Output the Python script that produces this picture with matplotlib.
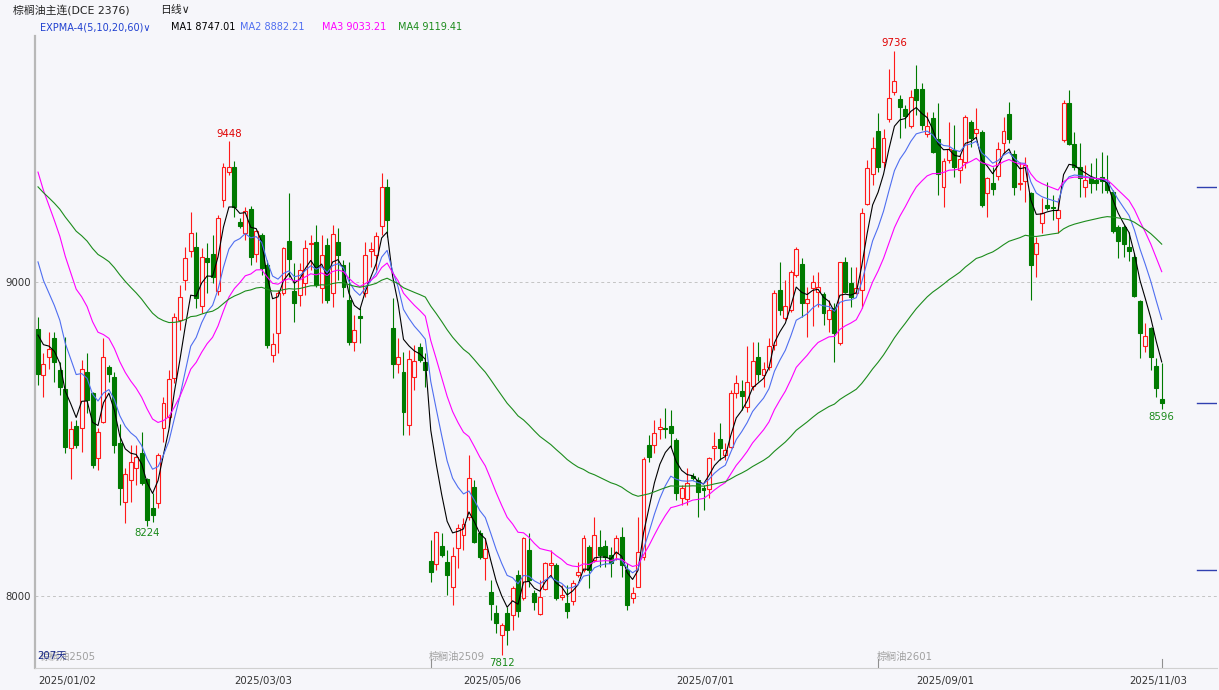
import matplotlib
matplotlib.use("Agg")
import matplotlib.pyplot as plt
from matplotlib.patches import Rectangle

plt.rcParams['font.family'] = ['DejaVu Sans', 'Noto Sans CJK SC']

# daily OHLC of the palm oil continuous contract, 2025/01/02 .. 2025/11/11 (207 sessions)
opens = [8850, 8704, 8761, 8822, 8720, 8659, 8471, 8541, 8535, 8713,
         8646, 8439, 8554, 8729, 8697, 8487, 8299, 8369, 8408, 8455,
         8373, 8280, 8296, 8535, 8570, 8694, 8879, 9006, 9099, 9111,
         8924, 9076, 9089, 8971, 9261, 9350, 9366, 9191, 9156, 9232,
         9089, 9150, 9054, 8767, 8838, 8965, 9131, 8971, 8959, 8997,
         9121, 9127, 8981, 9118, 8965, 9127, 9054, 8943, 8809, 8892,
         8965, 9099, 9086, 9178, 9303, 8853, 8739, 8713, 8545, 8697,
         8793, 8745, 8111, 8102, 8159, 8108, 8029, 8153, 8194, 8252,
         8347, 8201, 8121, 8013, 7946, 7876, 7946, 7939, 8067, 7994,
         8146, 8009, 7943, 8022, 8099, 8099, 7997, 7978, 7984, 8067,
         8083, 8156, 8115, 8156, 8159, 8130, 8137, 8188, 8083, 7994,
         8029, 8124, 8481, 8481, 8532, 8535, 8541, 8497, 8312, 8309,
         8382, 8369, 8344, 8341, 8471, 8500, 8449, 8474, 8646, 8653,
         8602, 8669, 8761, 8704, 8729, 8799, 8975, 8885, 8911, 9022,
         9057, 8933, 8981, 8968, 8962, 8882, 8917, 8806, 9064, 8997,
         8965, 8975, 9248, 9344, 9481, 9382, 9519, 9605, 9583, 9551,
         9497, 9615, 9615, 9471, 9522, 9455, 9303, 9389, 9420, 9357,
         9382, 9510, 9475, 9478, 9283, 9315, 9338, 9443, 9535, 9408,
         9312, 9322, 9283, 9089, 9188, 9245, 9239, 9204, 9452, 9570,
         9440, 9366, 9303, 9334, 9325, 9334, 9318, 9287, 9175, 9175,
         9111, 9080, 8939, 8796, 8853, 8732, 8627]
highs = [8889, 8774, 8841, 8841, 8745, 8825, 8557, 8560, 8752, 8774,
         8650, 8535, 8822, 8736, 8713, 8548, 8408, 8481, 8481, 8522,
         8376, 8328, 8455, 8634, 8720, 8901, 8990, 9111, 9223, 9159,
         9108, 9124, 9150, 9213, 9379, 9448, 9385, 9204, 9239, 9242,
         9166, 9156, 9070, 8838, 8975, 9111, 9283, 9061, 9061, 9134,
         9150, 9182, 9150, 9140, 9182, 9172, 9070, 9064, 8895, 8917,
         9127, 9127, 9159, 9347, 9328, 8949, 8822, 8777, 8783, 8799,
         8806, 8774, 8178, 8207, 8201, 8146, 8156, 8229, 8248, 8449,
         8369, 8210, 8185, 8051, 7971, 7914, 7965, 8032, 8083, 8188,
         8201, 8019, 8051, 8108, 8146, 8105, 8035, 8035, 8051, 8108,
         8194, 8162, 8252, 8210, 8178, 8156, 8194, 8220, 8105, 8029,
         8252, 8443, 8513, 8560, 8567, 8599, 8592, 8503, 8353, 8408,
         8392, 8379, 8353, 8443, 8522, 8551, 8487, 8656, 8704, 8688,
         8796, 8809, 8809, 8745, 8822, 8975, 9064, 9006, 9038, 9111,
         9076, 8984, 9022, 9032, 8968, 8943, 8933, 9064, 9080, 9048,
         9048, 9236, 9389, 9462, 9538, 9487, 9678, 9736, 9596, 9564,
         9612, 9691, 9634, 9541, 9541, 9570, 9395, 9510, 9500, 9404,
         9532, 9516, 9554, 9484, 9334, 9366, 9446, 9526, 9573, 9420,
         9382, 9398, 9287, 9143, 9268, 9318, 9277, 9268, 9580, 9612,
         9478, 9443, 9373, 9379, 9395, 9414, 9404, 9293, 9182, 9182,
         9159, 9092, 8943, 8869, 8857, 8758, 8742]
lows = [8672, 8634, 8723, 8681, 8640, 8455, 8373, 8471, 8459, 8583,
        8408, 8401, 8550, 8681, 8455, 8290, 8232, 8299, 8353, 8353,
        8224, 8236, 8280, 8490, 8538, 8678, 8847, 8975, 9080, 8917,
        8901, 8965, 8997, 8960, 9239, 9341, 9207, 9172, 9134, 9054,
        9064, 9022, 8790, 8745, 8774, 8960, 9016, 8873, 8924, 8959,
        9038, 8984, 8933, 8933, 8920, 9006, 8952, 8799, 8780, 8806,
        8952, 9048, 9038, 9150, 9143, 8694, 8710, 8513, 8513, 8656,
        8745, 8666, 8045, 8083, 8124, 8003, 7971, 8089, 8146, 8242,
        8169, 8118, 8051, 7923, 7882, 7812, 7844, 7892, 7933, 7987,
        8029, 7955, 7939, 8019, 8060, 7987, 7987, 7930, 7971, 8060,
        8076, 8025, 8108, 8092, 8092, 8060, 8115, 8060, 7955, 7978,
        8029, 8115, 8427, 8455, 8500, 8503, 8471, 8306, 8290, 8290,
        8369, 8252, 8274, 8312, 8433, 8433, 8433, 8471, 8631, 8592,
        8586, 8656, 8685, 8666, 8720, 8783, 8895, 8879, 8904, 9016,
        8889, 8825, 8860, 8920, 8863, 8841, 8745, 8800, 8965, 8920,
        8962, 8917, 9245, 9309, 9350, 9363, 9510, 9596, 9459, 9490,
        9490, 9532, 9484, 9462, 9411, 9277, 9239, 9379, 9334, 9315,
        9363, 9430, 9459, 9240, 9207, 9277, 9325, 9411, 9443, 9277,
        9293, 9255, 8943, 9016, 9156, 9229, 9197, 9156, 9446, 9436,
        9357, 9271, 9271, 9283, 9293, 9283, 9283, 9156, 9076, 9080,
        9067, 8952, 8758, 8777, 8720, 8634, 8596]
closes = [8707, 8739, 8787, 8745, 8666, 8474, 8532, 8481, 8723, 8624,
          8417, 8522, 8761, 8707, 8481, 8344, 8388, 8427, 8443, 8360,
          8242, 8258, 8449, 8615, 8691, 8889, 8952, 9076, 9156, 8949,
          9080, 9064, 9016, 9204, 9366, 9366, 9239, 9178, 9226, 9080,
          9162, 9045, 8799, 8803, 8965, 9108, 9073, 8933, 9038, 9108,
          9121, 8990, 9086, 8943, 9153, 9086, 8984, 8809, 8847, 8885,
          9086, 9105, 9147, 9303, 9197, 8739, 8761, 8586, 8755, 8748,
          8752, 8720, 8076, 8204, 8130, 8067, 8127, 8216, 8229, 8376,
          8172, 8124, 8150, 7974, 7914, 7908, 7892, 8025, 7952, 8185,
          8051, 7981, 7997, 8105, 8105, 7994, 8003, 7952, 8041, 8076,
          8185, 8083, 8194, 8130, 8124, 8105, 8185, 8099, 7971, 8009,
          8140, 8436, 8443, 8519, 8538, 8532, 8519, 8328, 8344, 8360,
          8376, 8331, 8338, 8439, 8478, 8471, 8465, 8646, 8678, 8637,
          8681, 8748, 8707, 8723, 8796, 8965, 8911, 8924, 9032, 9105,
          8933, 8946, 9000, 8984, 8901, 8911, 8838, 9064, 8968, 8952,
          8981, 9220, 9363, 9427, 9366, 9459, 9586, 9640, 9557, 9529,
          9589, 9580, 9500, 9497, 9414, 9344, 9385, 9424, 9366, 9392,
          9526, 9459, 9487, 9245, 9331, 9296, 9424, 9481, 9455, 9303,
          9315, 9373, 9054, 9124, 9220, 9236, 9236, 9229, 9570, 9440,
          9366, 9331, 9325, 9315, 9315, 9322, 9293, 9162, 9131, 9121,
          9099, 8955, 8838, 8828, 8761, 8662, 8615]

# EXPMA settings; seeds = indicator values on the first visible session
ema_periods = [5, 10, 20, 60]
ema_seeds = [8831, 9064, 9350, 9303]
ema_names = ["MA1", "MA2", "MA3", "MA4"]
ema_last = ["8747.01", "8882.21", "9033.21", "9119.41"]
ema_colors = ["#000000", "#4f6ef0", "#ff00ff", "#1c8c1c"]

date_idx = [0, 36, 78, 117, 161, 200]
date_labels = ["2025/01/02", "2025/03/03", "2025/05/06", "2025/07/01", "2025/09/01", "2025/11/03"]
contract_idx = [0, 72, 154]
contract_labels = ["棕榈油2505", "棕榈油2509", "棕榈油2601"]
# marked extremes: (session, "high"/"low")
extremes = [(35, "high"), (20, "low"), (157, "high"), (85, "low"), (206, "low")]
right_marks = [9303, 8615, 8083]

BG = "#f6f6fa"
RED = "#ff1a1a"
GREEN = "#007a00"


def ema(vals, n, seed):
    a = 2.0 / (n + 1)
    out = [seed]
    for v in vals[1:]:
        out.append(out[-1] + a * (v - out[-1]))
    return out


W, H = 1219, 690
fig = plt.figure(figsize=(W / 100, H / 100), dpi=100, facecolor=BG)
# plot area in pixels: x 35..1217, y 36..668
ax = fig.add_axes([35 / W, (H - 668) / H, (1217 - 35) / W, (668 - 36) / H], facecolor=BG)
x_per = 5.455
ax.set_xlim(-3 / x_per, (1217 - 38) / x_per)
ax.set_ylim(9000 - (668 - 282) * 3.185, 9000 + (282 - 36) * 3.185)

bw = 0.72
for i, (o, h, l, c) in enumerate(zip(opens, highs, lows, closes)):
    up = c >= o
    col = RED if up else GREEN
    ax.vlines(i, l, h, color=col, lw=0.8, zorder=2)
    bottom = min(o, c)
    height = max(abs(c - o), 2)
    ax.add_patch(Rectangle((i - bw / 2, bottom), bw, height,
                           facecolor=BG if up else GREEN, edgecolor=col, lw=0.8, zorder=3))

xs = list(range(len(closes)))
for n, seed, col in zip(ema_periods, ema_seeds, ema_colors):
    ax.plot(xs, ema(closes, n, seed), color=col, lw=0.8, zorder=4)

for yv in (8000, 9000):
    ax.axhline(yv, color="#c4c4c4", lw=0.7, ls=(0, (3, 3)), zorder=1)

for i, kind in extremes:
    if kind == "high":
        ax.annotate(f"{highs[i]}", (i, highs[i]), xytext=(0, 2), textcoords="offset points",
                    ha="center", va="bottom", fontsize=7.3, color="#e00000", zorder=5)
    else:
        ax.annotate(f"{lows[i]}", (i, lows[i]), xytext=(0, -2), textcoords="offset points",
                    ha="center", va="top", fontsize=7.3, color="#1a8a1a", zorder=5)

for p in right_marks:
    ax.plot([212.5, 216], [p, p], color="#3040b0", lw=1.0, zorder=4)

# contract roll labels and day count along the bottom
trans = ax.get_xaxis_transform()
for i, lab in zip(contract_idx, contract_labels):
    ax.text(i - 0.3 + (0.6 if i == 0 else 0), 0.01, lab, transform=trans, fontsize=7.3,
            color="#a0a0a0", va="bottom", ha="left", zorder=1)
    if i:
        ax.plot([i, i], [0, 0.015], transform=trans, color="#909090", lw=0.8)
ax.plot([206, 206], [0, 0.015], transform=trans, color="#909090", lw=0.8)
ax.text(-0.2, 0.012, "207天", transform=trans, fontsize=7.3, color="#1a2a8a", va="bottom", ha="left",
        zorder=6)

ax.set_yticks([8000, 9000])
ax.set_yticklabels(["8000", "9000"], fontsize=7.3, color="#333333")
ax.set_xticks(date_idx)
ax.set_xticklabels(date_labels, fontsize=7.3, color="#333333", ha="left")
ax.tick_params(axis="both", length=0, pad=3)
ax.tick_params(axis="x", pad=6)
for s in ("top", "right"):
    ax.spines[s].set_visible(False)
ax.spines["left"].set_color("#b8b8b8")
ax.spines["left"].set_linewidth(1.6)
ax.spines["bottom"].set_color("#d0d0d0")
ax.spines["bottom"].set_linewidth(0.8)

# header
fig.text(13 / W, 1 - 10 / H, "棕榈油主连(DCE 2376)", fontsize=7.8, color="#222222", va="center")
fig.text(160 / W, 1 - 10 / H, "日线∨", fontsize=7.8, color="#222222", va="center")
fig.text(40 / W, 1 - 27 / H, "EXPMA-4(5,10,20,60)∨", fontsize=7.0, color="#2040d0", va="center")
lx = [171, 240, 322, 398]
for x0, nm, v, col in zip(lx, ema_names, ema_last, ema_colors):
    fig.text(x0 / W, 1 - 27 / H, f"{nm} {v}", fontsize=7.0, color=col, va="center")

fig.savefig("out.png", dpi=100, facecolor=BG)
